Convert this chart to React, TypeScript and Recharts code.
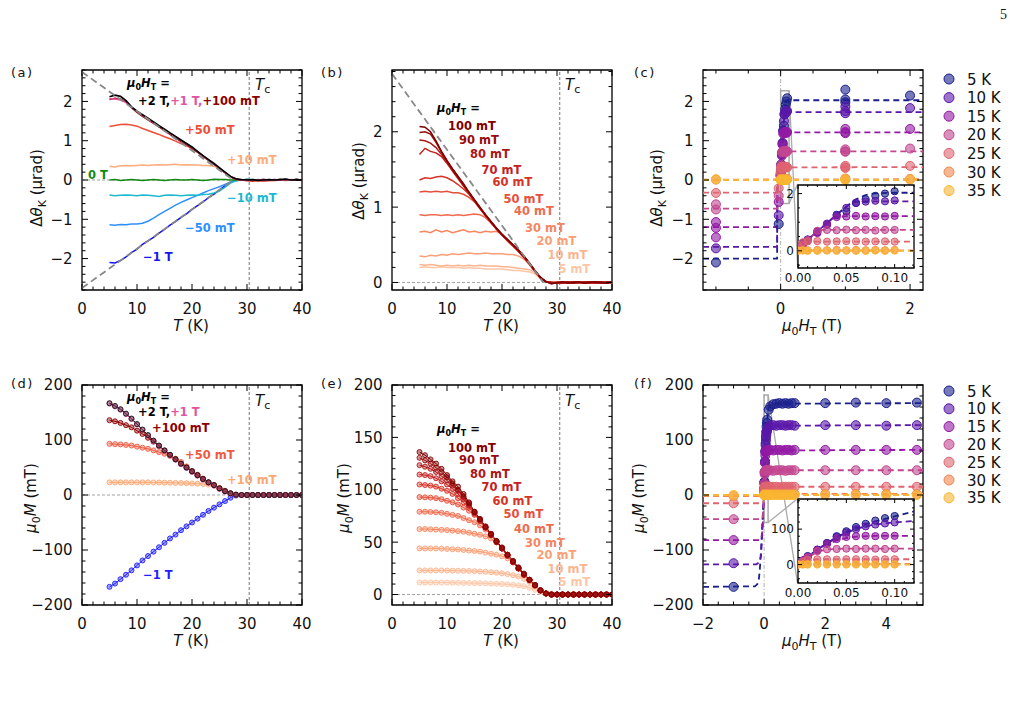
import React from "react";
import {
  ComposedChart,
  Line,
  Scatter,
  XAxis,
  YAxis,
  ReferenceLine,
  ReferenceArea,
} from "recharts";

const FONT = "'DejaVu Sans', sans-serif";

// temperature grid of the T-sweeps (K)
const T_K = [5, 6, 7, 8, 9, 10, 11, 12, 13, 14, 15, 16, 17, 18, 19, 20, 21, 22, 23, 24, 25, 26, 27, 28, 29, 30, 31, 32, 33, 34, 35, 36, 37, 38, 39, 40];

// (a) Kerr signal vs T for several training fields (µrad)
const kerrA2T = [2.12, 2.16, 2.13, 2.02, 1.86, 1.75, 1.66, 1.57, 1.48, 1.38, 1.29, 1.2, 1.11, 1.02, 0.93, 0.84, 0.73, 0.62, 0.52, 0.42, 0.31, 0.2, 0.09, 0.03, 0.01, 0.0, 0.01, -0.01, 0.0, 0.01, 0.0, 0.01, 0.02, 0.0, 0.01, 0.0];
const kerrA1T = [2.07, 2.06, 2.04, 1.97, 1.85, 1.74, 1.64, 1.55, 1.46, 1.37, 1.28, 1.19, 1.1, 1.01, 0.92, 0.83, 0.72, 0.61, 0.51, 0.41, 0.3, 0.19, 0.08, 0.02, 0.0, -0.01, 0.0, 0.0, -0.01, 0.0, 0.01, 0.0, 0.01, 0.0, 0.0, 0.01];
const kerrA100 = [2.05, 2.08, 2.06, 1.98, 1.84, 1.72, 1.62, 1.53, 1.44, 1.35, 1.26, 1.16, 1.07, 0.98, 0.9, 0.81, 0.71, 0.6, 0.5, 0.4, 0.3, 0.19, 0.08, 0.02, 0.0, 0.0, -0.01, 0.0, 0.01, 0.0, 0.0, 0.01, 0.0, 0.0, 0.01, 0.0];
const kerrA50 = [1.36, 1.39, 1.41, 1.42, 1.4, 1.37, 1.31, 1.26, 1.21, 1.16, 1.1, 1.05, 0.99, 0.93, 0.87, 0.8, 0.71, 0.61, 0.51, 0.41, 0.3, 0.19, 0.08, 0.02, 0.0, -0.02, -0.03, -0.02, -0.03, -0.02, -0.01, 0.0, -0.01, 0.0, 0.0, 0.01];
const kerrA10 = [0.35, 0.33, 0.36, 0.37, 0.36, 0.37, 0.38, 0.37, 0.38, 0.39, 0.38, 0.39, 0.4, 0.38, 0.39, 0.38, 0.38, 0.37, 0.37, 0.35, 0.29, 0.19, 0.08, 0.02, 0.0, -0.01, -0.02, -0.01, -0.02, 0.0, -0.01, 0.0, 0.0, 0.01, 0.0, 0.0];
const kerrA0 = [0.0, 0.01, -0.01, 0.0, 0.01, 0.0, -0.01, 0.0, 0.01, 0.0, -0.01, 0.0, 0.01, 0.0, 0.0, 0.01, 0.0, -0.01, 0.0, 0.02, 0.01, 0.01, 0.0, 0.0, 0.0, 0.01, 0.0, 0.0, -0.01, 0.0, 0.0, 0.01, 0.0, 0.0, 0.01, 0.0];
const kerrAm10 = [-0.38, -0.4, -0.39, -0.38, -0.39, -0.4, -0.38, -0.39, -0.4, -0.42, -0.39, -0.38, -0.39, -0.4, -0.39, -0.38, -0.39, -0.37, -0.36, -0.33, -0.28, -0.18, -0.08, -0.02, 0.0, 0.01, 0.01, 0.0, 0.0, 0.01, 0.0, 0.0, 0.01, 0.0, 0.0, 0.0];
const kerrAm50 = [-1.14, -1.15, -1.13, -1.14, -1.12, -1.12, -1.1, -1.05, -0.97, -0.88, -0.8, -0.72, -0.64, -0.57, -0.51, -0.45, -0.39, -0.33, -0.27, -0.22, -0.17, -0.11, -0.05, -0.01, 0.0, 0.01, 0.0, 0.01, 0.0, 0.0, 0.01, 0.0, 0.0, 0.0, 0.01, 0.0];
const kerrAm1T = [-2.1, -2.11, -2.05, -1.96, -1.85, -1.76, -1.64, -1.55, -1.46, -1.35, -1.26, -1.15, -1.06, -0.95, -0.86, -0.75, -0.65, -0.56, -0.45, -0.36, -0.25, -0.15, -0.06, -0.01, 0.0, 0.01, 0.0, 0.0, 0.01, 0.0, 0.0, 0.0, 0.01, 0.0, 0.0, 0.0];

// (b) Kerr signal vs T, low training fields (µrad)
const kerrB100 = [2.07, 2.06, 2.0, 1.88, 1.74, 1.62, 1.51, 1.41, 1.31, 1.2, 1.1, 1.0, 0.9, 0.81, 0.72, 0.64, 0.57, 0.5, 0.43, 0.35, 0.26, 0.16, 0.07, 0.01, -0.02, 0.0, 0.01, -0.01, 0.0, 0.01, -0.01, 0.0, 0.01, 0.0, -0.01, 0.0];
const kerrB90 = [1.99, 2.0, 1.97, 1.86, 1.73, 1.61, 1.5, 1.4, 1.3, 1.19, 1.09, 0.99, 0.9, 0.81, 0.72, 0.64, 0.57, 0.5, 0.42, 0.34, 0.25, 0.15, 0.06, 0.01, -0.01, 0.0, 0.0, 0.01, -0.01, 0.0, 0.0, 0.01, 0.0, -0.01, 0.0, 0.01];
const kerrB80 = [1.89, 1.88, 1.85, 1.79, 1.7, 1.6, 1.49, 1.39, 1.29, 1.19, 1.09, 0.99, 0.89, 0.8, 0.71, 0.63, 0.56, 0.49, 0.42, 0.34, 0.25, 0.15, 0.06, 0.01, 0.0, -0.01, 0.0, 0.0, 0.01, 0.0, -0.01, 0.0, 0.0, 0.01, 0.0, 0.0];
const kerrB70 = [1.7, 1.78, 1.74, 1.72, 1.67, 1.58, 1.48, 1.38, 1.28, 1.18, 1.08, 0.98, 0.89, 0.8, 0.71, 0.63, 0.56, 0.49, 0.42, 0.34, 0.25, 0.15, 0.06, 0.01, 0.0, 0.0, -0.01, 0.0, 0.0, 0.0, 0.01, 0.0, -0.01, 0.0, 0.0, 0.01];
const kerrB60 = [1.36, 1.39, 1.38, 1.4, 1.41, 1.39, 1.35, 1.3, 1.24, 1.17, 1.08, 0.98, 0.89, 0.8, 0.71, 0.63, 0.56, 0.49, 0.41, 0.33, 0.24, 0.15, 0.06, 0.01, 0.0, -0.01, 0.0, 0.0, 0.01, 0.0, 0.0, -0.01, 0.0, 0.0, 0.01, 0.0];
const kerrB50 = [1.2, 1.21, 1.2, 1.21, 1.2, 1.21, 1.19, 1.19, 1.17, 1.13, 1.07, 0.98, 0.89, 0.8, 0.71, 0.63, 0.55, 0.48, 0.41, 0.33, 0.24, 0.15, 0.06, 0.01, 0.0, 0.0, 0.01, 0.0, -0.01, 0.0, 0.0, 0.0, 0.01, 0.0, 0.0, 0.0];
const kerrB40 = [0.9, 0.89, 0.9, 0.9, 0.89, 0.9, 0.89, 0.9, 0.89, 0.9, 0.91, 0.9, 0.86, 0.79, 0.71, 0.63, 0.55, 0.48, 0.41, 0.33, 0.24, 0.15, 0.06, 0.01, 0.0, 0.0, 0.0, -0.01, 0.0, 0.0, 0.01, 0.0, 0.0, 0.0, 0.0, 0.01];
const kerrB30 = [0.67, 0.68, 0.66, 0.7, 0.67, 0.69, 0.66, 0.68, 0.7, 0.67, 0.68, 0.66, 0.68, 0.67, 0.68, 0.64, 0.57, 0.49, 0.41, 0.33, 0.24, 0.15, 0.06, 0.01, 0.0, 0.0, -0.01, 0.0, 0.0, 0.0, 0.0, 0.01, 0.0, 0.0, 0.0, 0.0];
const kerrB20 = [0.35, 0.34, 0.36, 0.35, 0.37, 0.36, 0.38, 0.37, 0.38, 0.39, 0.38, 0.38, 0.39, 0.38, 0.38, 0.38, 0.37, 0.37, 0.35, 0.31, 0.24, 0.15, 0.06, 0.01, 0.0, 0.0, 0.0, 0.0, -0.01, 0.0, 0.0, 0.0, 0.0, 0.0, -0.01, 0.0];
const kerrB10 = [0.24, 0.23, 0.24, 0.23, 0.22, 0.23, 0.22, 0.23, 0.22, 0.23, 0.22, 0.23, 0.22, 0.22, 0.22, 0.21, 0.21, 0.2, 0.19, 0.18, 0.17, 0.13, 0.06, 0.01, 0.0, 0.0, 0.0, 0.0, 0.0, -0.01, 0.0, 0.0, 0.0, 0.0, 0.0, 0.0];
const kerrB5 = [0.2, 0.21, 0.2, 0.2, 0.21, 0.2, 0.2, 0.2, 0.19, 0.2, 0.19, 0.19, 0.18, 0.18, 0.18, 0.18, 0.17, 0.16, 0.16, 0.15, 0.14, 0.11, 0.05, 0.01, 0.0, 0.0, 0.0, 0.0, 0.0, 0.0, 0.0, 0.0, 0.0, 0.0, 0.0, 0.0];

// (d) magnetisation vs T (mT)
const magD2T = [167, 162, 156, 148, 139, 129, 119, 109, 99, 90, 81, 73, 65, 57, 50, 43, 36, 29, 23, 18, 12, 7, 3, 0.5, 0, 0, 0, 0, 0, 0, 0, 0, 0, 0, 0, 0];
const magD1T = [166, 161, 155, 147, 138, 128, 118, 108, 98, 89, 80, 72, 64, 56, 49, 42, 35, 28, 22, 17, 11, 6, 2.5, 0.5, 0, 0, 0, 0, 0, 0, 0, 0, 0, 0, 0, 0];
const magD100 = [136, 134, 131, 127, 123, 117, 111, 104, 97, 89, 81, 73, 65, 57, 50, 43, 36, 29, 23, 18, 12, 7, 3, 0.5, 0, 0, 0, 0, 0, 0, 0, 0, 0, 0, 0, 0];
const magD50 = [93, 92.5, 92, 91, 90, 88, 86, 84, 81, 78, 75, 71, 66, 60, 52, 44, 37, 30, 23, 18, 12, 7, 3, 0.5, 0, 0, 0, 0, 0, 0, 0, 0, 0, 0, 0, 0];
const magD10 = [23, 23, 23, 23, 23, 23, 23, 23, 22.8, 22.7, 22.5, 22.3, 22, 21.8, 21.5, 21, 20.5, 20, 19, 17, 13, 8, 3.5, 0.5, 0, 0, 0, 0, 0, 0, 0, 0, 0, 0, 0, 0];
const magDm1T = [-167, -161, -153, -145, -137, -128, -119, -111, -103, -95, -87, -79, -72, -64, -57, -50, -43, -36, -29, -23, -17, -11, -5, -1, 0, 0, 0, 0, 0, 0, 0, 0, 0, 0, 0, 0];

// (e) magnetisation vs T, low training fields (mT)
const magE100 = [136, 133, 129, 125, 120, 114, 108, 103, 96, 88, 79, 72, 65, 58, 51, 45, 38, 32, 26, 20, 14, 9, 4, 1, 0, 0, 0, 0, 0, 0, 0, 0, 0, 0, 0, 0];
const magE90 = [130.5, 128, 125, 121, 117, 112, 106, 100, 94, 87, 79, 72, 64, 57, 51, 44, 38, 32, 25, 19, 14, 9, 4, 1, 0, 0, 0, 0, 0, 0, 0, 0, 0, 0, 0, 0];
const magE80 = [123.5, 122, 120, 117, 113, 109, 104, 99, 93, 86, 78, 71, 64, 57, 50, 44, 38, 31, 25, 19, 14, 9, 4, 1, 0, 0, 0, 0, 0, 0, 0, 0, 0, 0, 0, 0];
const magE70 = [114.5, 114, 113, 111, 108, 105, 101, 96, 91, 85, 78, 71, 64, 57, 50, 44, 37, 31, 25, 19, 14, 9, 4, 1, 0, 0, 0, 0, 0, 0, 0, 0, 0, 0, 0, 0];
const magE60 = [105, 104.5, 104, 103, 101, 99, 96, 92, 88, 83, 77, 70, 64, 57, 50, 44, 37, 31, 25, 19, 14, 8.5, 4, 1, 0, 0, 0, 0, 0, 0, 0, 0, 0, 0, 0, 0];
const magE50 = [93, 92.8, 92.5, 92, 91, 89.5, 88, 86, 83, 80, 76, 71, 65, 58, 51, 44, 37, 31, 25, 19, 13.5, 8.5, 4, 1, 0, 0, 0, 0, 0, 0, 0, 0, 0, 0, 0, 0];
const magE40 = [79, 79, 78.8, 78.5, 78, 77, 76, 75, 73, 71, 69, 66, 62, 57, 51, 44, 37, 31, 25, 19, 13.5, 8.5, 3.5, 1, 0, 0, 0, 0, 0, 0, 0, 0, 0, 0, 0, 0];
const magE30 = [62.5, 62.5, 62.3, 62, 61.8, 61.5, 61, 60.5, 60, 59, 58, 57, 55.5, 53.5, 50, 44, 37, 30.5, 24.5, 19, 13.5, 8.5, 3.5, 1, 0, 0, 0, 0, 0, 0, 0, 0, 0, 0, 0, 0];
const magE20 = [44, 44, 44, 44, 43.8, 43.5, 43.2, 43, 42.5, 42, 41.5, 41, 40, 39, 38, 36.5, 34.5, 30.5, 24.5, 18.5, 13, 8.5, 3.5, 1, 0, 0, 0, 0, 0, 0, 0, 0, 0, 0, 0, 0];
const magE10 = [23, 23, 23, 23, 23, 22.9, 22.8, 22.7, 22.6, 22.5, 22.3, 22, 21.7, 21.3, 20.8, 20.2, 19.5, 18.5, 17.2, 15, 12, 8, 3.5, 1, 0, 0, 0, 0, 0, 0, 0, 0, 0, 0, 0, 0];
const magE5 = [11.5, 11.5, 11.5, 11.5, 11.4, 11.4, 11.3, 11.2, 11.1, 11, 10.9, 10.8, 10.6, 10.4, 10.2, 10, 9.7, 9.3, 8.7, 8, 6.5, 4.5, 2.5, 0.8, 0, 0, 0, 0, 0, 0, 0, 0, 0, 0, 0, 0];

// (c) Kerr signal vs training field at fixed T
const TEMP_LABELS = ["5 K", "10 K", "15 K", "20 K", "25 K", "30 K", "35 K"];
const TEMP_COLORS = ["#1b1f8c", "#5a17a9", "#9219a4", "#c2468f", "#df6470", "#f2874f", "#fab632"];
const FIELD_C = [-1, -1, -1, -0.03, 0, 0.005, 0.01, 0.02, 0.03, 0.04, 0.05, 0.06, 0.07, 0.08, 0.09, 0.1, 1, 1, 1, 2];
const kerrC = [
  [-2.1, null, null, -1.12, 0.15, 0.28, 0.4, 0.68, 0.92, 1.26, 1.38, 1.67, 1.8, 1.92, 2.0, 2.08, 2.3, 2.05, 1.98, 2.15],
  [-1.74, null, null, -0.9, 0.12, 0.25, 0.38, 0.65, 0.95, 1.24, 1.5, 1.68, 1.72, 1.75, 1.73, 1.76, 1.87, 1.75, 1.7, 1.83],
  [-1.07, -1.22, -1.46, -0.56, 0.1, 0.22, 0.35, 0.62, 0.9, 1.18, 1.2, 1.22, 1.2, 1.21, 1.2, 1.22, 1.3, 1.22, 1.19, 1.3],
  [-0.62, -0.75, null, -0.4, 0.1, 0.2, 0.38, 0.7, 0.73, 0.72, 0.74, 0.72, 0.73, 0.71, 0.73, 0.73, 0.78, 0.73, 0.72, 0.8],
  [-0.33, null, null, -0.21, 0.2, 0.3, 0.33, 0.34, 0.32, 0.33, 0.34, 0.33, 0.32, 0.33, 0.33, 0.32, 0.36, 0.32, 0.31, 0.36],
  [0.01, null, null, null, 0.02, 0.03, 0.02, 0.03, 0.02, 0.03, 0.02, 0.03, 0.02, 0.03, 0.02, 0.03, 0.04, 0.02, null, 0.03],
  [0.02, null, null, null, 0.0, 0.01, 0.0, 0.0, 0.01, 0.0, 0.01, 0.0, 0.0, 0.01, 0.0, 0.01, 0.02, 0.0, null, 0.01],
];
// fitted step curves for (c), [field, value]
const fitC = [
  [[-1.2, -2.0], [-0.055, -2.0], [-0.05, -0.2], [0, 0.1], [0.03, 0.97], [0.05, 1.55], [0.06, 1.8], [0.07, 1.95], [0.08, 2.01], [0.1, 2.03], [2.2, 2.03]],
  [[-1.2, -1.7], [-0.055, -1.7], [-0.05, -0.2], [0, 0.1], [0.03, 0.97], [0.05, 1.55], [0.058, 1.7], [0.07, 1.73], [2.2, 1.73]],
  [[-1.2, -1.2], [-0.055, -1.2], [-0.05, -0.2], [0, 0.1], [0.03, 0.97], [0.038, 1.18], [0.05, 1.21], [2.2, 1.21]],
  [[-1.2, -0.73], [-0.055, -0.73], [-0.05, -0.2], [0, 0.1], [0.02, 0.68], [0.025, 0.73], [2.2, 0.73]],
  [[-1.2, -0.32], [-0.055, -0.32], [-0.05, -0.2], [0, 0.1], [0.008, 0.32], [2.2, 0.33]],
  [[-1.2, 0.01], [2.2, 0.02]],
  [[-1.2, 0.0], [2.2, 0.0]],
];

// (f) magnetisation vs training field at fixed T
const FIELD_F = [-1, 0, 0.005, 0.01, 0.02, 0.03, 0.04, 0.05, 0.06, 0.07, 0.08, 0.09, 0.1, 0.15, 0.2, 0.3, 0.4, 0.5, 0.6, 0.7, 0.8, 0.9, 1, 2, 3, 4, 5];
const magF = [
  [-167, 3, 12, 24, 42, 61, 80, 94, 106, 115, 124, 131, 137, 155, 161, 165, 166, 167, 166, 167, 166, 167, 167, 167, 168, 167, 168],
  [-124, 2, 11, 22, 42, 60, 78, 90, 100, 108, 113, 116, 119, 124, 126, 127, 126, 127, 127, 126, 127, 127, 126, 127, 127, 126, 127],
  [-82, 2, 11, 22, 40, 58, 72, 78, 80, 81, 80, 81, 81, 82, 82, 81, 82, 82, 81, 82, 82, 81, 82, 82, 82, 82, 82],
  [-44, 2, 10, 20, 38, 43, 44, 45, 44, 45, 45, 44, 45, 45, 45, 44, 45, 45, 45, 44, 45, 45, 45, 45, 45, 45, 45],
  [-15, 2, 8, 13, 15, 15, 14, 15, 15, 15, 14, 15, 15, 15, 15, 15, 15, 14, 15, 15, 15, 15, 15, 15, 15, 15, 15],
  [-2, 0, 1, 2, 2, 2, 2, 2, 2, 2, 2, 2, 2, 2, 2, 2, 2, 2, 2, 2, 2, 2, 2, 2, 2, 2, 2],
  [0, 0, 0, 0, 0, 0, 0, 0, 0, 0, 0, 0, 0, 0, 0, 0, 0, 0, 0, 0, 0, 0, 0, 0, 0, 0, 0],
];
const fitF = [
  [[-2, -167], [-0.3, -166], [-0.22, -162], [-0.17, -152], [-0.14, -135], [-0.1, -100], [-0.06, -55], [-0.03, -20], [0, 0], [0.01, 22], [0.02, 42], [0.03, 60], [0.04, 77], [0.05, 92], [0.06, 104], [0.07, 114], [0.08, 122], [0.1, 136], [0.12, 150], [0.15, 158], [0.2, 163], [0.3, 166], [5.2, 167]],
  [[-2, -126], [-0.25, -126], [-0.15, -122], [-0.1, -110], [-0.06, -70], [-0.03, -30], [0, 0], [0.01, 22], [0.02, 42], [0.03, 60], [0.04, 76], [0.05, 90], [0.06, 100], [0.07, 108], [0.08, 113], [0.1, 119], [0.12, 123], [0.2, 126], [5.2, 127]],
  [[-2, -82], [-0.15, -82], [-0.08, -78], [-0.05, -60], [-0.02, -20], [0, 0], [0.01, 22], [0.02, 40], [0.03, 56], [0.04, 68], [0.05, 75], [0.06, 79], [0.08, 81], [5.2, 82]],
  [[-2, -44], [-0.1, -44], [-0.04, -40], [-0.02, -20], [0, 0], [0.01, 20], [0.02, 36], [0.03, 43], [0.05, 45], [5.2, 45]],
  [[-2, -15], [-0.05, -15], [-0.02, -10], [0, 0], [0.01, 13], [0.02, 15], [5.2, 15]],
  [[-2, -2], [-0.02, -2], [0, 0], [0.01, 2], [5.2, 2]],
  [[-2, 0], [5.2, 0]],
];

// tick positions
const TICKS_T = [0, 2, 4, 6, 8, 10, 12, 14, 16, 18, 20, 22, 24, 26, 28, 30, 32, 34, 36, 38, 40];
const MAJOR_T = [0, 10, 20, 30, 40];
const TICKS_KERR = [-2.8, -2.6, -2.4, -2.2, -2, -1.8, -1.6, -1.4, -1.2, -1, -0.8, -0.6, -0.4, -0.2, 0, 0.2, 0.4, 0.6, 0.8, 1, 1.2, 1.4, 1.6, 1.8, 2, 2.2, 2.4, 2.6, 2.8];
const MAJOR_KERR = [-2, -1, 0, 1, 2];
const TICKS_KERR_B = [0, 0.2, 0.4, 0.6, 0.8, 1, 1.2, 1.4, 1.6, 1.8, 2, 2.2, 2.4, 2.6, 2.8];
const MAJOR_KERR_B = [0, 1, 2];
const TICKS_HC = [-1, -0.5, 0, 0.5, 1, 1.5, 2];
const MAJOR_HC = [0, 2];
const TICKS_M = [-200, -180, -160, -140, -120, -100, -80, -60, -40, -20, 0, 20, 40, 60, 80, 100, 120, 140, 160, 180, 200];
const MAJOR_M = [-200, -100, 0, 100, 200];
const TICKS_ME = [0, 10, 20, 30, 40, 50, 60, 70, 80, 90, 100, 110, 120, 130, 140, 150, 160, 170, 180, 190, 200];
const MAJOR_ME = [0, 50, 100, 150, 200];
const TICKS_HF = [-2, -1.5, -1, -0.5, 0, 0.5, 1, 1.5, 2, 2.5, 3, 3.5, 4, 4.5, 5];
const MAJOR_HF = [-2, 0, 2, 4];
const TICKS_INSET_X = [0, 0.01, 0.02, 0.03, 0.04, 0.05, 0.06, 0.07, 0.08, 0.09, 0.1, 0.11, 0.12];
const MAJOR_INSET_X = [0, 0.05, 0.1];
const TICKS_INSET_KERR = [-0.5, 0, 0.5, 1, 1.5, 2];
const MAJOR_INSET_KERR = [0, 2];
const TICKS_INSET_M = [-40, -20, 0, 20, 40, 60, 80, 100, 120, 140, 160, 180];
const MAJOR_INSET_M = [0, 100];

type Pt = { x: number; y: number };
const zip = (xs: number[], ys: (number | null)[]): Pt[] =>
  xs.map((x, i) => ({ x, y: ys[i] as number })).filter((p) => p.y !== null && p.y !== undefined);
const fromPairs = (ps: number[][]): Pt[] => ps.map(([x, y]) => ({ x, y }));
const inInset = (p: Pt) => p.x >= 0 && p.x <= 0.12;

const fmt = (v: number, digits: number) => {
  const s = Math.abs(v).toFixed(digits);
  return v < -1e-9 ? "\u2212" + s : s;
};

type Box = { left: number; top: number; w: number; h: number };
const PAD_L = 60;
const PAD_T = 12;
const PAD_R = 12;
const PAD_B = 40;

type PanelProps = {
  box: Box;
  xDomain: [number, number];
  yDomain: [number, number];
  xTicks: number[];
  xMajor: number[];
  yTicks: number[];
  yMajor: number[];
  xDigits?: number;
  font?: number;
  xGap?: number;
  yGap?: number;
  majorLen?: number;
  minorLen?: number;
  inset?: boolean;
  children?: React.ReactNode;
};

function Panel({
  box, xDomain, yDomain, xTicks, xMajor, yTicks, yMajor,
  xDigits = 0, font = 15, xGap = 24, yGap = 9.5, majorLen = 6, minorLen = 3.5, inset = false, children,
}: PanelProps) {
  const top = PAD_T;
  const bottom = PAD_T + box.h;
  const left = PAD_L;
  const right = PAD_L + box.w;
  const isMajor = (list: number[], v: number) => list.some((m) => Math.abs(m - v) < 1e-9);

  // ticks point inward on both opposite spines
  const xTick = (p: any) => {
    const v = p.payload.value;
    const major = isMajor(xMajor, v);
    const len = major ? majorLen : minorLen;
    return (
      <g>
        <line x1={p.x} x2={p.x} y1={bottom} y2={bottom - len} stroke="#000" strokeWidth={1} />
        <line x1={p.x} x2={p.x} y1={top} y2={top + len} stroke="#000" strokeWidth={1} />
        {major && (
          <text x={p.x} y={bottom + xGap} textAnchor="middle" fontSize={font} fontFamily={FONT} fill="#111">
            {fmt(v, xDigits)}
          </text>
        )}
      </g>
    );
  };
  const yTick = (p: any) => {
    const v = p.payload.value;
    const major = isMajor(yMajor, v);
    const len = major ? majorLen : minorLen;
    return (
      <g>
        <line x1={left} x2={left + len} y1={p.y} y2={p.y} stroke="#000" strokeWidth={1} />
        <line x1={right} x2={right - len} y1={p.y} y2={p.y} stroke="#000" strokeWidth={1} />
        {major && (
          <text x={left - yGap} y={p.y + font * 0.36} textAnchor="end" fontSize={font} fontFamily={FONT} fill="#111">
            {fmt(v, 0)}
          </text>
        )}
      </g>
    );
  };

  return (
    <div style={{ position: "absolute", left: box.left - PAD_L, top: box.top - PAD_T }}>
      <ComposedChart
        width={box.w + PAD_L + PAD_R}
        height={box.h + PAD_T + PAD_B}
        margin={{ top: PAD_T, right: PAD_R, bottom: 0, left: 0 }}
      >
        <XAxis type="number" dataKey="x" domain={xDomain} ticks={xTicks} allowDataOverflow interval={0}
          height={PAD_B} tick={xTick} tickLine={false} axisLine={false} />
        <YAxis type="number" dataKey="y" domain={yDomain} ticks={yTicks} allowDataOverflow interval={0}
          width={PAD_L} tick={yTick} tickLine={false} axisLine={false} />
        {inset && (
          <ReferenceArea x1={xDomain[0]} x2={xDomain[1]} y1={yDomain[0]} y2={yDomain[1]}
            fill="#fff" fillOpacity={1} stroke="none" ifOverflow="visible" />
        )}
        {children}
        <ReferenceArea x1={xDomain[0]} x2={xDomain[1]} y1={yDomain[0]} y2={yDomain[1]}
          fill="none" fillOpacity={0} stroke="#000" strokeWidth={1.3} ifOverflow="visible" />
      </ComposedChart>
    </div>
  );
}

const trace = (key: string, data: Pt[], color: string, width = 1.5) => (
  <Line key={key} data={data} dataKey="y" type="linear" stroke={color} strokeWidth={width}
    dot={false} activeDot={false} isAnimationActive={false} />
);

const markedTrace = (key: string, data: Pt[], color: string, fillOpacity = 0.4) => (
  <Line key={key} data={data} dataKey="y" type="linear" stroke={color} strokeWidth={1}
    activeDot={false} isAnimationActive={false}
    dot={(p: any) => (
      <circle key={`${key}-${p.index}`} cx={p.cx} cy={p.cy} r={2.5} fill={color}
        fillOpacity={fillOpacity} stroke={color} strokeWidth={0.9} />
    )} />
);

const dots = (key: string, data: Pt[], color: string, r: number) => (
  <Scatter key={key} data={data} dataKey="y" isAnimationActive={false}
    shape={(p: any) => (
      <circle cx={p.cx} cy={p.cy} r={r} fill={color} fillOpacity={0.6} stroke={color} strokeWidth={1} />
    )} />
);

const fitLine = (key: string, data: Pt[], color: string) => (
  <Line key={key} data={data} dataKey="y" type="linear" stroke={color} strokeWidth={1.8}
    strokeDasharray="6 4" dot={false} activeDot={false} isAnimationActive={false} />
);

const tcLine = (key: string, x: number) => (
  <ReferenceLine key={key} x={x} stroke="#666" strokeWidth={0.9} strokeDasharray="3 2" />
);
const zeroLine = (key: string) => (
  <ReferenceLine key={key} y={0} stroke="#999" strokeWidth={0.9} strokeDasharray="3 2" />
);

const seriesA = [
  { key: "m1T", v: kerrAm1T, c: "#1414ee", w: 1.5 },
  { key: "m50", v: kerrAm50, c: "#2f8fff", w: 1.5 },
  { key: "m10", v: kerrAm10, c: "#1cb8d0", w: 1.5 },
  { key: "0T", v: kerrA0, c: "#128a12", w: 1.5 },
  { key: "p10", v: kerrA10, c: "#fdac7a", w: 1.5 },
  { key: "p50", v: kerrA50, c: "#ec4f38", w: 1.5 },
  { key: "p100", v: kerrA100, c: "#8b0000", w: 1.5 },
  { key: "p1T", v: kerrA1T, c: "#e0559e", w: 1.6 },
  { key: "p2T", v: kerrA2T, c: "#000000", w: 1.7 },
];

const RED_SCALE = ["#fdc6a6", "#fbb58e", "#f9a076", "#f58660", "#ef6b4e", "#e6503a", "#d73226", "#c42020", "#ad1616", "#980c0c", "#800000"];
const LOW_FIELD_LABELS = ["5 mT", "10 mT", "20 mT", "30 mT", "40 mT", "50 mT", "60 mT", "70 mT", "80 mT", "90 mT", "100 mT"];
const kerrB = [kerrB5, kerrB10, kerrB20, kerrB30, kerrB40, kerrB50, kerrB60, kerrB70, kerrB80, kerrB90, kerrB100];
const magE = [magE5, magE10, magE20, magE30, magE40, magE50, magE60, magE70, magE80, magE90, magE100];

const seriesD = [
  { key: "m1T", v: magDm1T, c: "#1f1fff" },
  { key: "p10", v: magD10, c: "#fca872" },
  { key: "p50", v: magD50, c: "#ec5a42" },
  { key: "p100", v: magD100, c: "#8b0000" },
  { key: "p1T", v: magD1T, c: "#e0559e" },
  { key: "p2T", v: magD2T, c: "#111111" },
];

const BOX_A: Box = { left: 82, top: 70, w: 220, h: 220 };
const BOX_B: Box = { left: 392, top: 70, w: 220, h: 220 };
const BOX_C: Box = { left: 703, top: 70, w: 220, h: 220 };
const BOX_D: Box = { left: 82, top: 385, w: 220, h: 220 };
const BOX_E: Box = { left: 392, top: 385, w: 220, h: 220 };
const BOX_F: Box = { left: 703, top: 385, w: 220, h: 220 };
const BOX_CI: Box = { left: 798, top: 185, w: 116, h: 83 };
const BOX_FI: Box = { left: 798, top: 499, w: 116, h: 84 };

const Mu0HT = ({ x, y }: { x: number; y: number }) => (
  <text x={x} y={y} fontSize={11.5} fontWeight="bold" fill="#000">
    <tspan fontStyle="italic">μ</tspan>
    <tspan dy={2.5} fontSize={8}>0</tspan>
    <tspan dy={-2.5} fontStyle="italic">H</tspan>
    <tspan dy={2.5} fontSize={8}>T</tspan>
    <tspan dy={-2.5}>{" ="}</tspan>
  </text>
);

const Tc = ({ x, y }: { x: number; y: number }) => (
  <text x={x} y={y} fontSize={15} fill="#111">
    <tspan fontStyle="italic">T</tspan>
    <tspan dy={3} fontSize={11}>c</tspan>
  </text>
);

const Tag = ({ x, y, c, t }: { x: number; y: number; c: string; t: string }) => (
  <text x={x} y={y} fontSize={11.5} fontWeight="bold" fill={c}>{t}</text>
);

const TLabel = ({ x, y }: { x: number; y: number }) => (
  <text x={x} y={y} fontSize={15} textAnchor="middle" fill="#111">
    <tspan fontStyle="italic">T</tspan>
    <tspan>{" (K)"}</tspan>
  </text>
);

const HLabel = ({ x, y }: { x: number; y: number }) => (
  <text x={x} y={y} fontSize={15} textAnchor="middle" fill="#111">
    <tspan fontStyle="italic">μ</tspan>
    <tspan dy={4} fontSize={11}>0</tspan>
    <tspan dy={-4} fontStyle="italic">H</tspan>
    <tspan dy={4} fontSize={11}>T</tspan>
    <tspan dy={-4}>{" (T)"}</tspan>
  </text>
);

const KerrLabel = ({ x, y }: { x: number; y: number }) => (
  <text x={x} y={y} fontSize={15} textAnchor="middle" fill="#111" transform={`rotate(-90 ${x} ${y})`}>
    <tspan>Δ</tspan>
    <tspan fontStyle="italic">θ</tspan>
    <tspan dy={4} fontSize={11}>K</tspan>
    <tspan dy={-4}>{" (μrad)"}</tspan>
  </text>
);

const MagLabel = ({ x, y }: { x: number; y: number }) => (
  <text x={x} y={y} fontSize={15} textAnchor="middle" fill="#111" transform={`rotate(-90 ${x} ${y})`}>
    <tspan fontStyle="italic">μ</tspan>
    <tspan dy={4} fontSize={11}>0</tspan>
    <tspan dy={-4} fontStyle="italic">M</tspan>
    <tspan>{" (mT)"}</tspan>
  </text>
);

const PanelTag = ({ x, y, t }: { x: number; y: number; t: string }) => (
  <text x={x} y={y} fontSize={13} letterSpacing={1.5} fill="#111">{`(${t})`}</text>
);

function Annotations() {
  const labelXs = [448, 459, 470, 481.5, 492.5, 503.5, 514, 525, 536.5, 547.5, 558.5];
  const labelYB = [130, 144, 158, 174, 186, 203, 215, 232, 245, 259, 273];
  const labelYE = [452, 464, 478, 491, 505, 518, 533, 547, 559, 573, 586];
  return (
    <svg width={1020} height={704} style={{ position: "absolute", left: 0, top: 0, pointerEvents: "none" }}
      fontFamily={FONT}>
      <text x={1000} y={19} fontSize={14} fontFamily="'Liberation Serif', serif" fill="#111">5</text>

      <PanelTag x={11} y={77} t="a" />
      <PanelTag x={321} y={77} t="b" />
      <PanelTag x={634} y={77} t="c" />
      <PanelTag x={11} y={388} t="d" />
      <PanelTag x={321} y={388} t="e" />
      <PanelTag x={634} y={388} t="f" />

      <KerrLabel x={42} y={188} />
      <KerrLabel x={364} y={181} />
      <KerrLabel x={662} y={188} />
      <MagLabel x={36} y={498} />
      <MagLabel x={349} y={498} />
      <MagLabel x={644} y={498} />
      <TLabel x={191} y={331} />
      <TLabel x={501} y={331} />
      <HLabel x={812} y={331} />
      <TLabel x={191} y={646} />
      <TLabel x={501} y={646} />
      <HLabel x={812} y={646} />

      <Tc x={255} y={90} />
      <Tc x={565} y={90} />
      <Tc x={255} y={406} />
      <Tc x={565} y={406} />

      {/* (a) field tags */}
      <Mu0HT x={127} y={87} />
      <text x={138} y={105} fontSize={11.5} fontWeight="bold">
        <tspan fill="#000">+2 T,</tspan>
        <tspan fill="#e0559e">+1 T,</tspan>
        <tspan fill="#8b0000">+100 mT</tspan>
      </text>
      <Tag x={185} y={134} c="#ec4f38" t="+50 mT" />
      <Tag x={227} y={164} c="#fdac7a" t="+10 mT" />
      <Tag x={88} y={179} c="#128a12" t="0 T" />
      <Tag x={227} y={202} c="#1cb8d0" t="−10 mT" />
      <Tag x={185} y={232} c="#2f8fff" t="−50 mT" />
      <Tag x={143} y={261} c="#1414ee" t="−1 T" />

      {/* (b) and (e) field tags */}
      <Mu0HT x={437} y={112} />
      <Mu0HT x={437} y={433} />
      {LOW_FIELD_LABELS.map((t, i) => {
        const j = LOW_FIELD_LABELS.length - 1 - i;
        return (
          <g key={t}>
            <Tag x={labelXs[j]} y={labelYB[j]} c={RED_SCALE[i]} t={t} />
            <Tag x={labelXs[j]} y={labelYE[j]} c={RED_SCALE[i]} t={t} />
          </g>
        );
      })}

      {/* (d) field tags */}
      <Mu0HT x={127} y={401} />
      <text x={138} y={416} fontSize={11.5} fontWeight="bold">
        <tspan fill="#000">+2 T,</tspan>
        <tspan fill="#e0559e">+1 T</tspan>
      </text>
      <Tag x={152} y={432} c="#8b0000" t="+100 mT" />
      <Tag x={185} y={459} c="#ec5a42" t="+50 mT" />
      <Tag x={227} y={484} c="#fca872" t="+10 mT" />
      <Tag x={143} y={579} c="#1f1fff" t="−1 T" />

      {/* temperature legends */}
      {TEMP_LABELS.map((t, i) => (
        <g key={`lc-${t}`}>
          <circle cx={949} cy={79 + i * 18.6} r={5} fill={TEMP_COLORS[i]} fillOpacity={0.6} stroke={TEMP_COLORS[i]} />
          <text x={967} y={79 + i * 18.6 + 5.5} fontSize={15} fill="#111">{t}</text>
        </g>
      ))}
      {TEMP_LABELS.map((t, i) => (
        <g key={`lf-${t}`}>
          <circle cx={949} cy={391 + i * 17.8} r={5} fill={TEMP_COLORS[i]} fillOpacity={0.6} stroke={TEMP_COLORS[i]} />
          <text x={967} y={391 + i * 17.8 + 5.5} fontSize={15} fill="#111">{t}</text>
        </g>
      ))}
    </svg>
  );
}

export default function App() {
  return (
    <div style={{ position: "absolute", left: 0, top: 0, width: 1020, height: 704, background: "#fff", fontFamily: FONT }}>
      {/* (a) */}
      <Panel box={BOX_A} xDomain={[0, 40]} yDomain={[-2.8, 2.8]} xTicks={TICKS_T} xMajor={MAJOR_T}
        yTicks={TICKS_KERR} yMajor={MAJOR_KERR}>
        {[
          zeroLine("z"),
          tcLine("tc", 30.4),
          ...seriesA.map((s) => trace(s.key, zip(T_K, s.v), s.c, s.w)),
          <ReferenceLine key="up" segment={[{ x: 0, y: 2.75 }, { x: 27.5, y: 0 }]} stroke="#888" strokeWidth={1.8} strokeDasharray="7 4" />,
          <ReferenceLine key="dn" segment={[{ x: 0, y: -2.75 }, { x: 27.5, y: 0 }]} stroke="#888" strokeWidth={1.8} strokeDasharray="7 4" />,
        ]}
      </Panel>

      {/* (b) */}
      <Panel box={BOX_B} xDomain={[0, 40]} yDomain={[-0.1, 2.82]} xTicks={TICKS_T} xMajor={MAJOR_T}
        yTicks={TICKS_KERR_B} yMajor={MAJOR_KERR_B}>
        {[
          zeroLine("z"),
          tcLine("tc", 30.5),
          ...kerrB.map((v, i) => trace(`b${i}`, zip(T_K, v), RED_SCALE[i], 1.5)),
          <ReferenceLine key="up" segment={[{ x: 0, y: 2.77 }, { x: 27.5, y: 0 }]} stroke="#888" strokeWidth={1.8} strokeDasharray="7 4" />,
        ]}
      </Panel>

      {/* (c) */}
      <Panel box={BOX_C} xDomain={[-1.2, 2.2]} yDomain={[-2.8, 2.8]} xTicks={TICKS_HC} xMajor={MAJOR_HC}
        yTicks={TICKS_KERR} yMajor={MAJOR_KERR}>
        {[
          <ReferenceLine key="v0" x={0} stroke="#aaa" strokeWidth={0.9} strokeDasharray="4 2 1 2" />,
          <ReferenceArea key="zoom" x1={0} x2={0.13} y1={-0.6} y2={2.27} fill="none" fillOpacity={0} stroke="#aaa" strokeWidth={1.5} />,
          <ReferenceLine key="cn1" segment={[{ x: 0.13, y: 2.27 }, { x: 0.263, y: -2.2 }]} stroke="#aaa" strokeWidth={1.3} />,
          <ReferenceLine key="cn2" segment={[{ x: 0.13, y: -0.6 }, { x: 0.263, y: -0.1 }]} stroke="#aaa" strokeWidth={1.3} />,
          ...TEMP_COLORS.flatMap((c, i) => [
            dots(`cs${i}`, zip(FIELD_C, kerrC[i]), c, 4.5),
            fitLine(`cf${i}`, fromPairs(fitC[i]), c),
          ]),
        ]}
      </Panel>
      <Panel box={BOX_CI} xDomain={[0, 0.12]} yDomain={[-0.6, 2.3]} xTicks={TICKS_INSET_X} xMajor={MAJOR_INSET_X}
        yTicks={TICKS_INSET_KERR} yMajor={MAJOR_INSET_KERR} xDigits={2} font={12} xGap={14} yGap={4}
        majorLen={4} minorLen={2} inset>
        {TEMP_COLORS.flatMap((c, i) => [
          dots(`ics${i}`, zip(FIELD_C, kerrC[i]).filter(inInset), c, 3.6),
          fitLine(`icf${i}`, fromPairs(fitC[i]), c),
        ])}
      </Panel>

      {/* (d) */}
      <Panel box={BOX_D} xDomain={[0, 40]} yDomain={[-200, 200]} xTicks={TICKS_T} xMajor={MAJOR_T}
        yTicks={TICKS_M} yMajor={MAJOR_M}>
        {[
          zeroLine("z"),
          tcLine("tc", 30.4),
          ...seriesD.map((s) => markedTrace(s.key, zip(T_K, s.v), s.c, s.key === "p2T" ? 0.25 : 0.4)),
        ]}
      </Panel>

      {/* (e) */}
      <Panel box={BOX_E} xDomain={[0, 40]} yDomain={[-10, 200]} xTicks={TICKS_T} xMajor={MAJOR_T}
        yTicks={TICKS_ME} yMajor={MAJOR_ME}>
        {[
          zeroLine("z"),
          tcLine("tc", 30.5),
          ...magE.map((v, i) => markedTrace(`e${i}`, zip(T_K, v), RED_SCALE[i], 0.4)),
        ]}
      </Panel>

      {/* (f) */}
      <Panel box={BOX_F} xDomain={[-2, 5.2]} yDomain={[-200, 200]} xTicks={TICKS_HF} xMajor={MAJOR_HF}
        yTicks={TICKS_M} yMajor={MAJOR_M}>
        {[
          <ReferenceLine key="v0" x={0} stroke="#aaa" strokeWidth={0.9} strokeDasharray="4 2 1 2" />,
          <ReferenceArea key="zoom" x1={0} x2={0.13} y1={-50} y2={182} fill="none" fillOpacity={0} stroke="#aaa" strokeWidth={1.5} />,
          <ReferenceLine key="cn1" segment={[{ x: 0.13, y: 182 }, { x: 1.09, y: -159 }]} stroke="#aaa" strokeWidth={1.3} />,
          <ReferenceLine key="cn2" segment={[{ x: 0.13, y: -50 }, { x: 1.09, y: -7 }]} stroke="#aaa" strokeWidth={1.3} />,
          ...TEMP_COLORS.flatMap((c, i) => [
            dots(`fs${i}`, zip(FIELD_F, magF[i]), c, 4.5),
            fitLine(`ff${i}`, fromPairs(fitF[i]), c),
          ]),
        ]}
      </Panel>
      <Panel box={BOX_FI} xDomain={[0, 0.12]} yDomain={[-52, 185]} xTicks={TICKS_INSET_X} xMajor={MAJOR_INSET_X}
        yTicks={TICKS_INSET_M} yMajor={MAJOR_INSET_M} xDigits={2} font={12} xGap={14} yGap={4}
        majorLen={4} minorLen={2} inset>
        {TEMP_COLORS.flatMap((c, i) => [
          dots(`ifs${i}`, zip(FIELD_F, magF[i]).filter(inInset), c, 3.6),
          fitLine(`iff${i}`, fromPairs(fitF[i]), c),
        ])}
      </Panel>

      <Annotations />
    </div>
  );
}
